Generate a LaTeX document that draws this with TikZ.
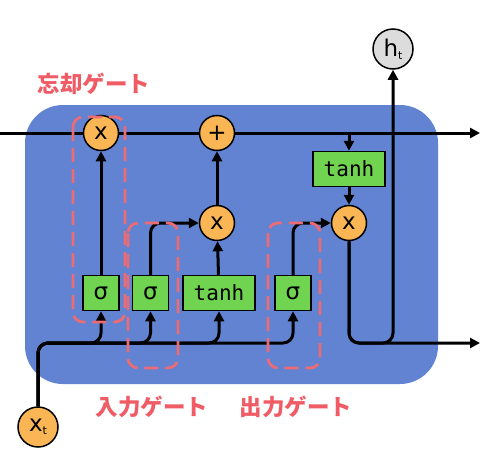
\documentclass[tikz,border=0pt]{standalone}
\usepackage{fontspec}
\setsansfont{DejaVu Sans}
\setmonofont{DejaVu Sans Mono}
\newfontfamily\jpfont{Noto Sans CJK JP}
\usetikzlibrary{%
   arrows.meta,%
   positioning}
\definecolor{cellblue}{RGB}{98,130,210}
\definecolor{oporange}{RGB}{250,182,84}
\definecolor{layergreen}{RGB}{112,212,80}
\definecolor{hgray}{RGB}{220,220,220}
\definecolor{gatered}{RGB}{236,108,118}
\definecolor{labelred}{RGB}{240,92,102}
\newcommand{\lstmidx}[1]{\raisebox{-3pt}{\fontsize{11}{11}\selectfont #1}}
\tikzset{
  lstm op/.style={
    circle,
    draw,
    line width=1.5pt,
    fill=oporange,
    minimum size=35pt,
    inner sep=0pt,
    font=\sffamily\fontsize{23}{23}\selectfont,
  },
  lstm layer/.style={
    rectangle,
    draw,
    line width=1.5pt,
    fill=layergreen,
    minimum width=36pt,
    minimum height=35pt,
    inner sep=0pt,
    font=\sffamily\fontsize{23}{23}\selectfont,
  },
  lstm tanh layer/.style={
    lstm layer,
    minimum width=72pt,
    font=\ttfamily\fontsize{21}{21}\selectfont,
  },
  lstm io/.style={
    circle,
    draw,
    line width=1.5pt,
    minimum size=40pt,
    inner sep=0pt,
    font=\sffamily\fontsize{23}{23}\selectfont,
  },
  gate frame/.style={
    draw=gatered,
    dash pattern=on 14pt off 7pt,
    line width=2.8pt,
    rounded corners=10pt,
  },
  gate label/.style={
    text=labelred,
    font=\jpfont\bfseries\fontsize{22.5}{22.5}\selectfont,
  },
}

\begin{document}
\begin{tikzpicture}[
            >= {Triangle[length=10pt,width=10pt]}, % arrow head style
            x = 1pt, y = -1pt, % pixel grid, y downwards
            flow/.style = {->, line width=3pt, rounded corners=10pt}
        ]
        \useasboundingbox (0,0) rectangle (494,463);

        % the cell
        \fill[cellblue, rounded corners=38pt] (25,105) rectangle (438,384);

        \node[lstm op] (fx) at (101,133) {x};
        \node[lstm op] (plus) at (217,133) {+};
        \node[lstm op] (ix) at (217,223) {x};
        \node[lstm op] (ox) at (349,223) {x};
        \node[lstm tanh layer] (ct) at (349,169) {tanh};

        \node[lstm layer] (fs) at (101,293) {σ};
        \node[lstm layer] (is) [right=12pt of fs] {σ};
        \node[lstm tanh layer] (it) [right=13pt of is] {tanh};
        \node[lstm layer] (os) at (293,293) {σ};

        \node[lstm io, fill=hgray] (ht) at (393,49) {h\lstmidx{t}};
        \node[lstm io, fill=oporange] (xt) at (38,427) {x\lstmidx{t}};

        \coordinate (cin) at (0,133);
        \coordinate (cout) at (480,133);
        \coordinate (split) at (ct.north |- cin);
        \coordinate (bus) at (0,343);
        \coordinate (hout) at (480,343);

        % cell state
        \draw[line width=3pt] (cin) -- (fx) (fx) -- (plus);
        \draw[flow] (plus) -- (cout);
        \draw[flow] (split) -- (ct);
        \draw[flow] (ct) -- (ox);

        % input x_t to the layers
        \foreach \g in {fs,is,it,os}
            \draw[flow] (xt) |- (\g.south |- bus) -- (\g);

        \draw[flow] (fs) -- (fx);
        \draw[flow] (is) |- (ix);
        \draw[flow] (it) -- (ix);
        \draw[flow] (ix) -- (plus);
        \draw[flow] (os) |- (ox);

        % hidden state
        \draw[flow] (ox) |- (hout);
        \draw[flow] (ox) |- (ht.south |- hout) -- (ht);

        % gates
        \draw[gate frame] (73,117) rectangle (125,322);
        \draw[gate frame] (128,223) rectangle (178,368);
        \draw[gate frame] (268,223) rectangle (320,368);

        \node[gate label] (forget label) at (94,84) {忘却ゲート};
        \node[gate label] (input label) at (152,407) {入力ゲート};
        \node[gate label] (output label) at (296,407) {出力ゲート};
    \end{tikzpicture}
\end{document}
